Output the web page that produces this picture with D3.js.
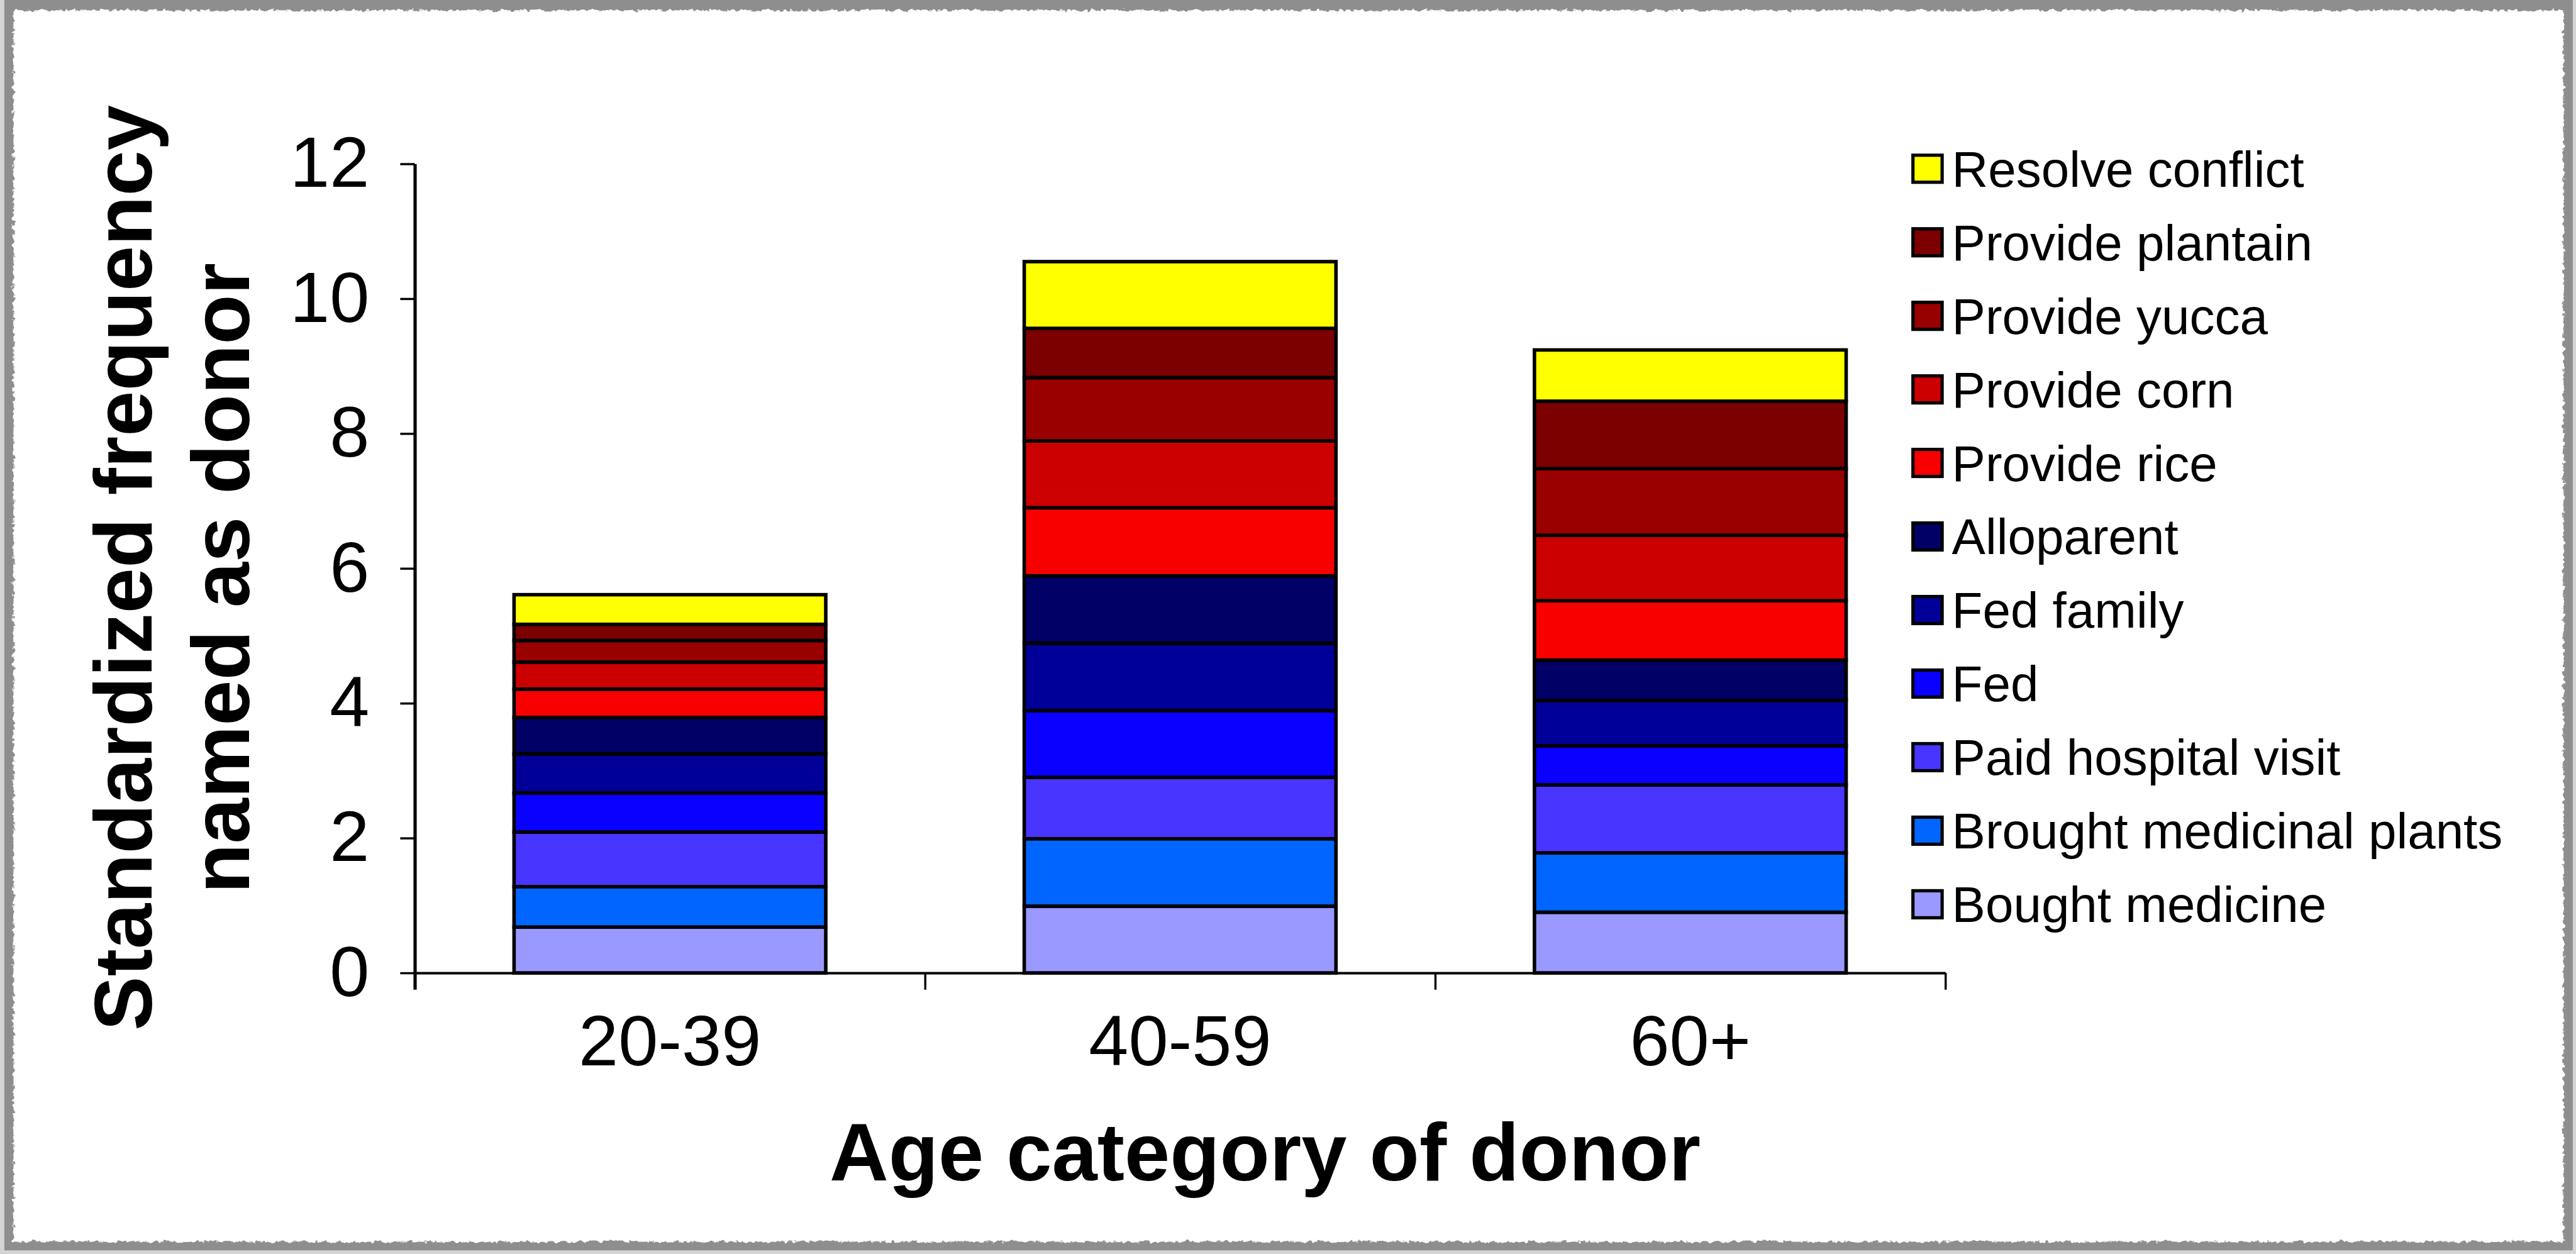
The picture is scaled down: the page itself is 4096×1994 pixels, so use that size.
<!DOCTYPE html>
<html>
<head>
<meta charset="utf-8">
<script src="https://cdn.jsdelivr.net/npm/d3@7"></script>
<style>
  html, body { margin: 0; padding: 0; background: #ffffff; }
  svg { display: block; }
</style>
</head>
<body>
<svg id="chart" width="4096" height="1994"></svg>
<script>
// ---- data ----------------------------------------------------------------
const ageGroups = ["20-39", "40-59", "60+"];

// stack order, bottom to top
const seriesNames = [
  "Bought medicine",
  "Brought medicinal plants",
  "Paid hospital visit",
  "Fed",
  "Fed family",
  "Alloparent",
  "Provide rice",
  "Provide corn",
  "Provide yucca",
  "Provide plantain",
  "Resolve conflict"
];

const boughtMedicine         = [0.68, 0.99, 0.90];
const broughtMedicinalPlants = [0.60, 1.00, 0.88];
const paidHospitalVisit      = [0.81, 0.91, 1.01];
const fed                    = [0.58, 0.99, 0.58];
const fedFamily              = [0.58, 1.00, 0.67];
const alloparent             = [0.54, 1.00, 0.60];
const provideRice            = [0.42, 1.01, 0.88];
const provideCorn            = [0.40, 0.99, 0.97];
const provideYucca           = [0.32, 0.94, 0.99];
const providePlantain        = [0.24, 0.73, 1.00];
const resolveConflict        = [0.44, 0.99, 0.76];

const seriesValues = [
  boughtMedicine, broughtMedicinalPlants, paidHospitalVisit, fed, fedFamily,
  alloparent, provideRice, provideCorn, provideYucca, providePlantain, resolveConflict
];

const seriesColors = [
  "#9999ff", "#0066ff", "#4835ff", "#0a00ff", "#000099",
  "#000066", "#f80000", "#cc0000", "#990000", "#7c0000", "#ffff00"
];

const yTicks = [0, 2, 4, 6, 8, 10, 12];
const yTitleLines = ["Standardized frequency", "named as donor"];
const xTitle = "Age category of donor";

// ---- layout (drawn in a 4763 x 2319 frame, scaled to the window) ---------
const W = 4763, H = 2319;
const S = 4096 / W;
const FONT = "'Liberation Sans', Arial, Helvetica, sans-serif";

const plot = { left: 767, right: 3597, top: 303, bottom: 1799 };

const svg = d3.select("#chart");
const root = svg.append("g").attr("transform", `scale(${S})`);

// rough paper edge
const defs = svg.append("defs");
const rough = defs.append("filter")
  .attr("id", "rough")
  .attr("filterUnits", "userSpaceOnUse")
  .attr("x", -40).attr("y", -40).attr("width", W + 80).attr("height", H + 80);
rough.append("feTurbulence")
  .attr("type", "fractalNoise")
  .attr("baseFrequency", "0.12 0.12")
  .attr("numOctaves", 2)
  .attr("seed", 7)
  .attr("result", "noise");
rough.append("feDisplacementMap")
  .attr("in", "SourceGraphic")
  .attr("in2", "noise")
  .attr("scale", 12)
  .attr("xChannelSelector", "R")
  .attr("yChannelSelector", "G");

root.append("rect").attr("x", 0).attr("y", 0).attr("width", W).attr("height", H).attr("fill", "#d4d4d4");
root.append("rect").attr("x", 8).attr("y", 0).attr("width", W - 14).attr("height", H - 7).attr("fill", "#8e8e8e");
root.append("rect").attr("x", 25).attr("y", 19).attr("width", W - 48).attr("height", H - 42)
  .attr("fill", "#ffffff").attr("filter", "url(#rough)");

// ---- scales --------------------------------------------------------------
const x = d3.scaleBand()
  .domain(ageGroups)
  .range([plot.left, plot.right])
  .paddingInner(0.389)
  .paddingOuter(0.1945);

const xEdges = d3.scaleLinear().domain([0, ageGroups.length]).range([plot.left, plot.right]);

const y = d3.scaleLinear().domain([0, 12]).range([plot.bottom, plot.top]);

const color = d3.scaleOrdinal().domain(seriesNames).range(seriesColors);

// ---- stacked bars --------------------------------------------------------
const table = ageGroups.map((g, i) => {
  const row = { group: g };
  seriesNames.forEach((name, k) => { row[name] = seriesValues[k][i]; });
  return row;
});

const stacked = d3.stack().keys(seriesNames)(table);

root.append("g")
  .selectAll("g")
  .data(stacked)
  .join("g")
    .attr("fill", d => color(d.key))
  .selectAll("rect")
  .data(d => d)
  .join("rect")
    .attr("x", d => x(d.data.group))
    .attr("width", x.bandwidth())
    .attr("y", d => y(d[1]))
    .attr("height", d => y(d[0]) - y(d[1]))
    .attr("stroke", "#000")
    .attr("stroke-width", 6.5);

// ---- axes ----------------------------------------------------------------
const gy = root.append("g")
  .attr("transform", `translate(${plot.left},0)`)
  .call(d3.axisLeft(y).tickValues(yTicks).tickSize(27).tickSizeOuter(0).tickPadding(57))
  .attr("font-size", 132)
  .attr("font-family", FONT);
gy.select(".domain").attr("stroke", "#000").attr("stroke-width", 6);
gy.selectAll(".tick line").attr("stroke", "#000").attr("stroke-width", 4);
gy.selectAll(".tick text").attr("fill", "#000");

const gxEdges = root.append("g")
  .attr("transform", `translate(0,${plot.bottom})`)
  .call(d3.axisBottom(xEdges).tickValues(d3.range(ageGroups.length + 1)).tickSize(31).tickSizeOuter(0).tickFormat(""));
gxEdges.select(".domain").attr("stroke", "#000").attr("stroke-width", 4.5);
gxEdges.selectAll(".tick line").attr("stroke", "#000").attr("stroke-width", 4);
gxEdges.select(".tick line").attr("stroke-width", 6);

const gx = root.append("g")
  .attr("transform", `translate(0,${plot.bottom})`)
  .call(d3.axisBottom(x).tickSize(0).tickSizeOuter(0))
  .attr("font-size", 132)
  .attr("font-family", FONT);
gx.select(".domain").remove();
gx.selectAll(".tick text").attr("fill", "#000").attr("dy", null).attr("y", 171);

// ---- axis titles ---------------------------------------------------------
root.append("text")
  .attr("x", 2339)
  .attr("y", 2183)
  .attr("text-anchor", "middle")
  .attr("font-family", FONT)
  .attr("font-weight", "bold")
  .attr("font-size", 151)
  .attr("fill", "#000")
  .text(xTitle);

const yTitle = root.append("g").attr("transform", "translate(0,1055) rotate(-90)");
yTitle.selectAll("text")
  .data(yTitleLines)
  .join("text")
    .attr("x", (d, i) => i === 0 ? 5 : -14)
    .attr("y", (d, i) => i === 0 ? 280 : 460)
    .attr("text-anchor", "middle")
    .attr("font-family", FONT)
    .attr("font-weight", "bold")
    .attr("font-size", 151)
    .attr("fill", "#000")
    .text(d => d);

// ---- legend (top of stack first) -----------------------------------------
const legendItems = seriesNames.slice().reverse();
const legend = root.append("g")
  .selectAll("g")
  .data(legendItems)
  .join("g")
    .attr("transform", (d, i) => `translate(3537,${312 + i * 136})`);

legend.append("rect")
  .attr("x", 0)
  .attr("y", -25)
  .attr("width", 54)
  .attr("height", 50)
  .attr("fill", d => color(d))
  .attr("stroke", "#000")
  .attr("stroke-width", 6);

legend.append("text")
  .attr("x", 72)
  .attr("y", 33)
  .attr("font-family", FONT)
  .attr("font-size", 93)
  .attr("fill", "#000")
  .text(d => d);
</script>
</body>
</html>
